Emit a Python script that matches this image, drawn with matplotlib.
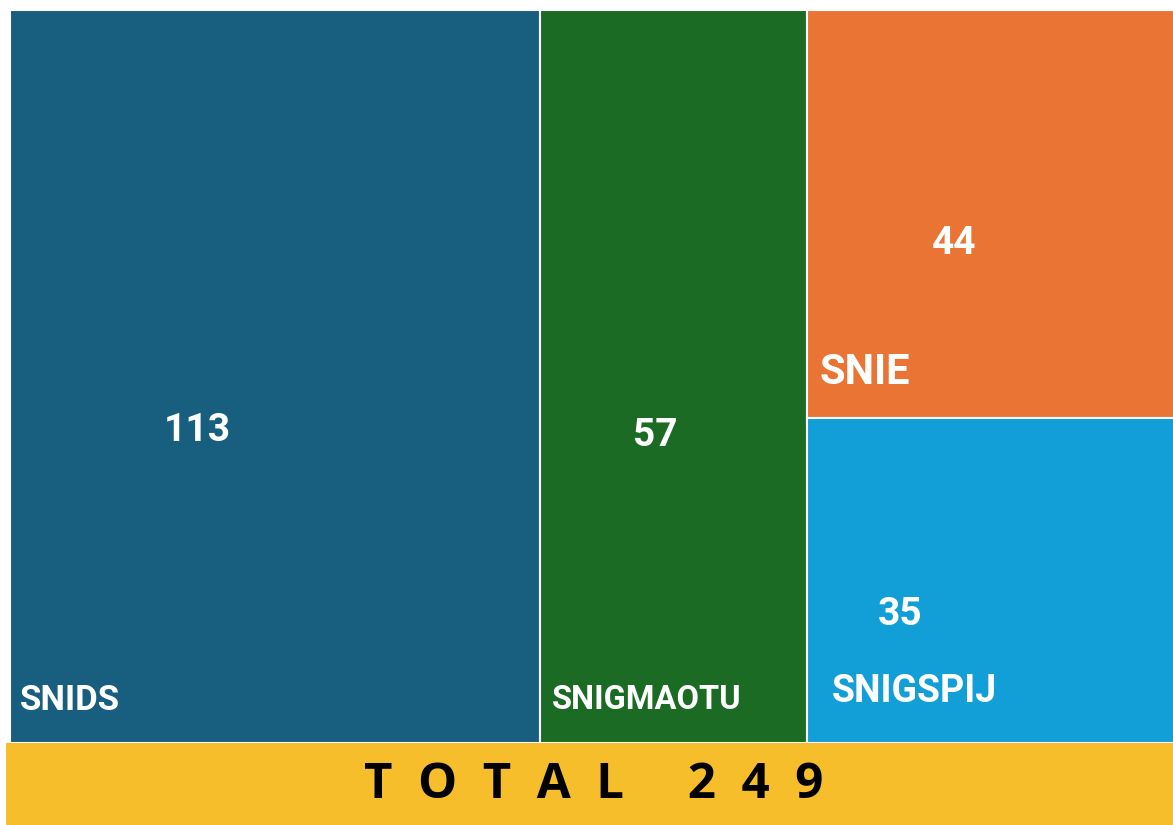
import matplotlib.pyplot as plt
from matplotlib.patches import Rectangle

# datos
categorias = ["SNIDS", "SNIGMAOTU", "SNIE", "SNIGSPIJ"]
valores = [113, 57, 44, 35]
colores = ["#175e7f", "#1b6b24", "#e97434", "#129fd7"]
total = sum(valores)

fig = plt.figure(figsize=(11.73, 8.25), dpi=100)
ax = fig.add_axes([0, 0, 1, 1])
ax.set_xlim(0, 1173)
ax.set_ylim(825, 0)
ax.axis("off")

# zona del treemap (en pixeles)
x0, x1 = 10, 1178
y0, y1 = 10, 743
W = x1 - x0
H = y1 - y0

# dos columnas y luego las dos ultimas apiladas
rects = []
x = x0
for v in valores[:2]:
    w = W * v / total
    rects.append((x, y0, w, H))
    x += w
resto = sum(valores[2:])
w = x1 - x
y = y0
for v in valores[2:]:
    h = H * v / resto
    rects.append((x, y, w, h))
    y += h

for (rx, ry, rw, rh), c in zip(rects, colores):
    ax.add_patch(Rectangle((rx, ry), rw, rh, facecolor=c, edgecolor="white", linewidth=1.5))

# posiciones de texto relativas a cada rectangulo
num_pos = [(0.353, 0.573), (0.43, 0.58), (0.395, 0.573), (0.25, 0.605)]
lab_pos = [(10, 43), (12, 43), (12, 46), (24, 51)]
lab_size = [25, 23.5, 30, 27]
for (rx, ry, rw, rh), cat, v, npos, lpos, ls in zip(rects, categorias, valores, num_pos, lab_pos, lab_size):
    ax.text(rx + rw * npos[0], ry + rh * npos[1], str(v), ha="center", va="center",
            color="white", fontsize=28, fontweight="bold", family="Roboto")
    ax.text(rx + lpos[0], ry + rh - lpos[1], cat, ha="left", va="center",
            color="white", fontsize=ls, fontweight="bold", family="Roboto")

# banda del total
ax.add_patch(Rectangle((6, 743), 1167, 82, facecolor="#f7be2b", edgecolor="none"))
ax.text(594, 785, "T  O  T  A  L     2  4  9", ha="center", va="center",
        fontsize=35.5, fontweight="bold", family="Open Sans", color="black")

fig.savefig("out.png", dpi=100)
